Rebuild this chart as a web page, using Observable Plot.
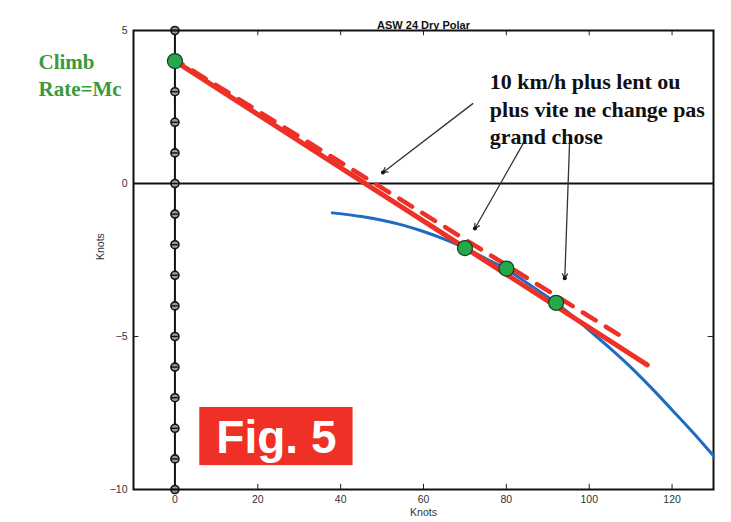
<!DOCTYPE html>
<html>
<head>
<meta charset="utf-8">
<script src="https://cdn.jsdelivr.net/npm/d3@7"></script>
<script src="https://cdn.jsdelivr.net/npm/@observablehq/plot@0.6"></script>
<style>
  html, body { margin: 0; padding: 0; background: #fff; }
  #chart { width: 731px; height: 522px; }
</style>
</head>
<body>
<div id="chart"></div>
<script>
// ---- data ----
const title = "ASW 24 Dry Polar";
const xLabel = "Knots";
const yLabel = "Knots";
const xTicks = [0, 20, 40, 60, 80, 100, 120];
const yTicks = [-10, -5, 0, 5];
const axisMarks = [-10, -9, -8, -7, -6, -5, -4, -3, -2, -1, 0, 1, 2, 3, 4, 5];

// glider polar (speed in knots, sink in knots)
const polarSpeed = [38, 45, 50, 55, 60, 65, 70, 75, 80, 85, 90, 95, 100, 105, 110, 115, 120, 125, 130];
const polarSink  = [-0.96, -1.08, -1.2, -1.36, -1.57, -1.82, -2.11, -2.45, -2.8, -3.25, -3.71, -4.22, -4.8, -5.38, -6.0, -6.68, -7.4, -8.13, -8.9];

// speed-to-fly tangent (solid) and alternative (dashed)
const tangentSpeed = [0, 114];
const tangentSink  = [4, -5.93];
const dashedSpeed  = [0, 109];
const dashedSink   = [4.05, -5.1];

// highlighted points
const pointSpeed = [0, 70, 80, 92];
const pointSink  = [4, -2.11, -2.78, -3.9];

// annotation arrows (from text to curve)
const arrowX1 = [71.9, 84.5, 95.3];
const arrowY1 = [2.61, 1.41, 1.5];
const arrowX2 = [50.2, 72.4, 94.1];
const arrowY2 = [0.36, -1.47, -3.1];

const noteLines = ["10 km/h plus lent ou", "plus vite ne change pas", "grand chose"];
const noteX = [76];
const noteY = [3.72];
const climbLines = ["Climb", "Rate=Mc"];
const figLabel = "Fig. 5";
const figBox = {x1: 6, x2: 43, y1: -7.32, y2: -9.22};

// ---- derived tables ----
const polar = polarSpeed.map((v, i) => ({v, s: polarSink[i]}));
const tangent = tangentSpeed.map((v, i) => ({v, s: tangentSink[i]}));
const dashed = dashedSpeed.map((v, i) => ({v, s: dashedSink[i]}));
const points = pointSpeed.map((v, i) => ({v, s: pointSink[i]}));
const arrows = arrowX1.map((x, i) => ({x1: x, y1: arrowY1[i], x2: arrowX2[i], y2: arrowY2[i]}));

const xDom = [-10, 130], yDom = [-10, 5];
const red = "#ee3026", blue = "#1c6cc4", green = "#23a94b";

const chart = Plot.plot({
  width: 731,
  height: 522,
  marginTop: 30,
  marginLeft: 133,
  marginRight: 18,
  marginBottom: 33,
  style: {fontFamily: "Liberation Sans, Arial, sans-serif", fontSize: "10.5px", color: "#333", background: "#fff"},
  x: {domain: xDom, ticks: xTicks, tickSize: 0, tickPadding: 6, label: null},
  y: {domain: yDom, ticks: yTicks, tickSize: 0, tickPadding: 6, label: null},
  marks: [
    // inward ticks on all four sides
    Plot.ruleX(xTicks, {x: d => d, y1: yDom[0], y2: yDom[0] + 0.17, stroke: "#222", strokeWidth: 1}),
    Plot.ruleX(xTicks, {x: d => d, y1: yDom[1], y2: yDom[1] - 0.17, stroke: "#222", strokeWidth: 1}),
    Plot.ruleY(yTicks, {y: d => d, x1: xDom[0], x2: xDom[0] + 1.3, stroke: "#222", strokeWidth: 1}),
    Plot.ruleY(yTicks, {y: d => d, x1: xDom[1], x2: xDom[1] - 1.3, stroke: "#222", strokeWidth: 1}),
    // zero lines
    Plot.ruleY([0], {stroke: "#111", strokeWidth: 1.8}),
    Plot.ruleX([0], {y1: yDom[0], y2: yDom[1], stroke: "#111", strokeWidth: 2}),
    Plot.dot(axisMarks, {x: 0, y: d => d, r: 4, fill: "#9a9a9a", stroke: "#111", strokeWidth: 1.6}),
    Plot.ruleY(axisMarks, {y: d => d, x1: -0.8, x2: 0.8, stroke: "#111", strokeWidth: 1.4}),
    Plot.frame({stroke: "#111", strokeWidth: 2}),
    // polar curve
    Plot.line(polar, {x: "v", y: "s", stroke: blue, strokeWidth: 3, curve: "catmull-rom"}),
    // tangent lines
    Plot.line(dashed, {x: "v", y: "s", stroke: red, strokeWidth: 4.5, strokeDasharray: "15,12", strokeDashoffset: 6}),
    Plot.line(tangent, {x: "v", y: "s", stroke: red, strokeWidth: 5}),
    Plot.dot(points, {x: "v", y: "s", r: 7.5, fill: green, stroke: "#1b3b22", strokeWidth: 1.2}),
    // arrows
    Plot.arrow(arrows, {x1: "x1", y1: "y1", x2: "x2", y2: "y2", stroke: "#333", strokeWidth: 1.3, headLength: 6}),
    Plot.dot(arrows, {x: "x2", y: "y2", r: 2, fill: "#111"}),
    // note text
    Plot.text(noteX, {x: d => d, y: noteY[0], text: () => noteLines.join("\n"), textAnchor: "start", lineAnchor: "top",
      lineHeight: 1.25, fontSize: 22, fontWeight: "bold", fontFamily: "Liberation Serif, Times New Roman, serif", fill: "#111"}),
    // Fig. 5 box
    Plot.rect([figBox], {x1: "x1", x2: "x2", y1: "y1", y2: "y2", fill: red}),
    Plot.text([figBox], {x: d => (d.x1 + d.x2) / 2, y: d => (d.y1 + d.y2) / 2, text: () => figLabel,
      fill: "#fff", fontSize: 46, fontWeight: "bold", fontFamily: "Liberation Sans, Arial, sans-serif", dy: 2}),
    // titles and labels
    Plot.text([title], {frameAnchor: "top", dy: -9, fontWeight: "bold", fontSize: 11, fill: "#111"}),
    Plot.text([xLabel], {frameAnchor: "bottom", dy: 26, fontSize: 10.5, fill: "#333"}),
    Plot.text([yLabel], {frameAnchor: "left", dx: -33, rotate: -90, fontSize: 10.5, fill: "#333"}),
    Plot.text([climbLines.join("\n")], {frameAnchor: "top-left", dx: -95, dy: 19, textAnchor: "start", lineAnchor: "top",
      lineHeight: 1.3, fontSize: 21, fontWeight: "bold", fontFamily: "Liberation Serif, Times New Roman, serif", fill: "#3a9a3c"})
  ]
});
document.getElementById("chart").appendChild(chart);
</script>
</body>
</html>
